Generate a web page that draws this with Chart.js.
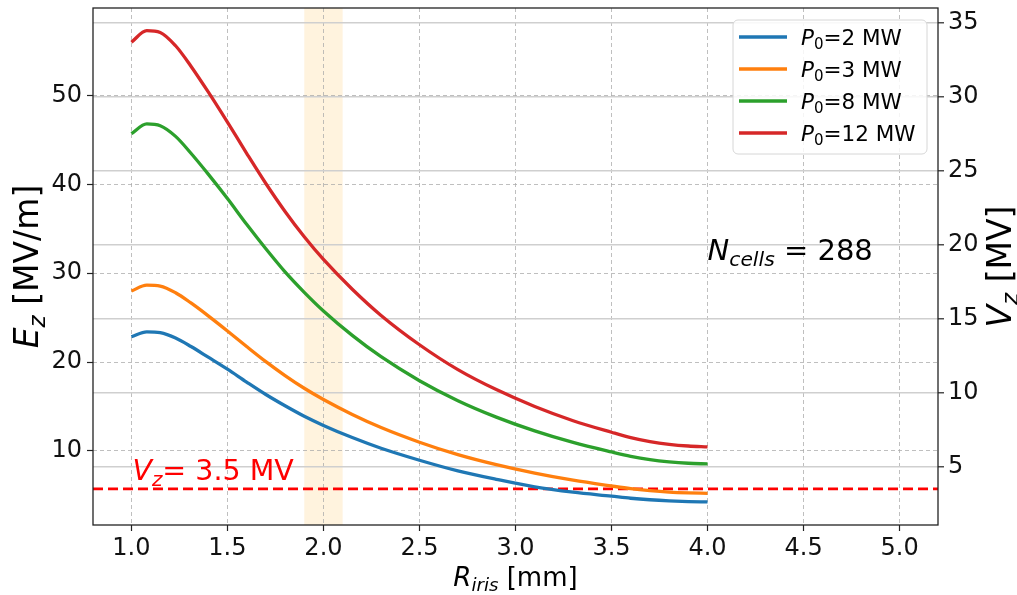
<!DOCTYPE html>
<html>
<head>
<meta charset="utf-8">
<script src="https://cdn.jsdelivr.net/npm/chart.js@4/dist/chart.umd.min.js"></script>
<style>
html,body{margin:0;padding:0;background:#fff;}
#wrap{width:1017px;height:595px;}
</style>
</head>
<body>
<div id="wrap"><canvas id="c" width="1017" height="595"></canvas></div>
<script>
// ===== DATA =====
const rIris = [1.0, 1.08, 1.15, 1.23, 1.31, 1.4, 1.5, 1.6, 1.7, 1.8, 1.9, 2.0, 2.15, 2.3, 2.5, 2.7, 2.9, 3.1, 3.3, 3.5, 3.6, 3.7, 3.8, 3.9, 4.0];
const ezP2  = [22.85, 23.4, 23.3, 22.7, 21.75, 20.55, 19.2, 17.75, 16.35, 15.08, 13.9, 12.87, 11.5, 10.3, 8.95, 7.75, 6.8, 5.95, 5.35, 4.9, 4.67, 4.5, 4.38, 4.3, 4.26];
const ezP3  = [28.0, 28.65, 28.55, 27.8, 26.65, 25.2, 23.5, 21.75, 20.05, 18.48, 17.05, 15.78, 14.1, 12.63, 10.98, 9.58, 8.45, 7.5, 6.7, 6.05, 5.75, 5.53, 5.37, 5.28, 5.23];
const ezP8  = [45.7, 46.8, 46.6, 45.4, 43.5, 41.15, 38.4, 35.5, 32.75, 30.15, 27.85, 25.75, 23.0, 20.6, 17.9, 15.65, 13.8, 12.25, 10.95, 9.88, 9.39, 9.02, 8.77, 8.61, 8.53];
const ezP12 = [56.0, 57.3, 57.1, 55.6, 53.3, 50.4, 47.0, 43.5, 40.1, 36.95, 34.1, 31.55, 28.2, 25.25, 21.95, 19.15, 16.9, 15.0, 13.4, 12.1, 11.5, 11.05, 10.74, 10.55, 10.45];
const powers = ["2", "3", "8", "12"];
const colors = ["#1f77b4", "#ff7f0e", "#2ca02c", "#d62728"];

const xTicks = [1.0, 1.5, 2.0, 2.5, 3.0, 3.5, 4.0, 4.5, 5.0];
const ezTicks = [10, 20, 30, 40, 50];
const vzTicks = [5, 10, 15, 20, 25, 30, 35];
const xRange = [0.8, 5.2];
const ezRange = [1.66, 59.85];
const vzRange = [1.06, 35.97];

const vzLimit = 3.5;          // MV, on right axis
const band = [1.9, 2.1];      // highlighted R_iris window
const nCells = 288;

const FONT = '"DejaVu Sans", sans-serif';

// ===== rich text helpers (italic + subscripts) =====
function richWidth(ctx, parts, size){
    let w = 0;
    parts.forEach(p => {
        const s = p.sub ? size*0.7 : size;
        ctx.font = (p.it ? 'italic ' : '') + s + 'px ' + FONT;
        w += ctx.measureText(p.t).width;
    });
    return w;
}
function drawRich(ctx, parts, x, y, size, color){
    let cx = x;
    ctx.fillStyle = color;
    ctx.textAlign = 'left';
    ctx.textBaseline = 'alphabetic';
    parts.forEach(p => {
        const s = p.sub ? size*0.7 : size;
        ctx.font = (p.it ? 'italic ' : '') + s + 'px ' + FONT;
        ctx.fillText(p.t, cx, y + (p.sub ? size*0.2 : 0));
        cx += ctx.measureText(p.t).width;
    });
}

const decor = {
    id: 'decor',
    beforeDraw(chart){
        const {ctx, chartArea:a, scales} = chart;
        const x0 = scales.x.getPixelForValue(band[0]), x1 = scales.x.getPixelForValue(band[1]);
        ctx.save();
        ctx.fillStyle = 'rgba(255,165,0,0.13)';
        ctx.fillRect(x0, a.top, x1-x0, a.bottom-a.top);
        ctx.restore();
    },
    afterDraw(chart){
        const {ctx, chartArea:a, scales} = chart;
        ctx.save();
        // spines
        ctx.strokeStyle = '#222'; ctx.lineWidth = 1.3;
        ctx.strokeRect(a.left, a.top, a.right-a.left, a.bottom-a.top);

        // V_z limit label
        drawRich(ctx, [{t:'V',it:1},{t:'z',it:1,sub:1},{t:'= 3.5 MV'}],
            scales.x.getPixelForValue(1.0)+1, scales.y2.getPixelForValue(4.1), 28.5, '#ff0000');
        // N_cells label
        drawRich(ctx, [{t:'N',it:1},{t:'cells',it:1,sub:1},{t:' = ' + nCells}],
            scales.x.getPixelForValue(4.0), scales.y.getPixelForValue(31.5), 29, '#000');

        // legend
        const lx = a.right - 205, ly = a.top + 12, lw = 194, lh = 134;
        ctx.beginPath();
        ctx.roundRect(lx, ly, lw, lh, 5);
        ctx.fillStyle = 'rgba(255,255,255,0.85)'; ctx.fill();
        ctx.strokeStyle = '#d6d6d6'; ctx.lineWidth = 1; ctx.stroke();
        powers.forEach((p, i) => {
            const ry = ly + 17 + i*32;
            ctx.strokeStyle = colors[i]; ctx.lineWidth = 3.3;
            ctx.beginPath(); ctx.moveTo(lx+6, ry); ctx.lineTo(lx+54, ry); ctx.stroke();
            drawRich(ctx, [{t:'P',it:1},{t:'0',sub:1},{t:'=' + p + ' MW'}], lx+68, ry+7.5, 21.5, '#000');
        });

        // axis titles
        const cy = (a.top + a.bottom)/2;
        const ezParts = [{t:'E',it:1},{t:'z',it:1,sub:1},{t:' [MV/m]'}];
        ctx.save();
        ctx.translate(38, cy); ctx.rotate(-Math.PI/2);
        drawRich(ctx, ezParts, -richWidth(ctx, ezParts, 33)/2, 0, 33, '#000');
        ctx.restore();
        const vzParts = [{t:'V',it:1},{t:'z',it:1,sub:1},{t:' [MV]'}];
        ctx.save();
        ctx.translate(1011, cy); ctx.rotate(-Math.PI/2);
        drawRich(ctx, vzParts, -richWidth(ctx, vzParts, 33)/2, 0, 33, '#000');
        ctx.restore();
        const rParts = [{t:'R',it:1},{t:'iris',it:1,sub:1},{t:' [mm]'}];
        const cx = (a.left + a.right)/2;
        drawRich(ctx, rParts, cx - richWidth(ctx, rParts, 26)/2, 586, 26, '#000');
        ctx.restore();
    }
};

const pts = ys => ys.map((v, i) => ({x: rIris[i], y: v}));
const series = [ezP2, ezP3, ezP8, ezP12];

const datasets = series.map((ys, i) => ({
    label: 'P0=' + powers[i] + ' MW',
    data: pts(ys),
    borderColor: colors[i],
    borderWidth: 3.3,
    pointRadius: 0,
    fill: false,
    cubicInterpolationMode: 'monotone',
    yAxisID: 'y'
}));
datasets.push({
    label: 'Vz limit',
    data: [{x: xRange[0], y: vzLimit}, {x: xRange[1], y: vzLimit}],
    borderColor: '#ff0000',
    borderWidth: 2.8,
    borderDash: [10, 5],
    pointRadius: 0,
    fill: false,
    yAxisID: 'y2'
});

const setTicks = vals => s => { s.ticks = vals.map(v => ({value: v})); };
const tickFont = {family: FONT, size: 24};

new Chart(document.getElementById('c').getContext('2d'), {
    type: 'line',
    data: {datasets},
    options: {
        responsive: false,
        animation: false,
        devicePixelRatio: 1,
        layout: {padding: {top: 8, left: 0, right: 0, bottom: 0}},
        plugins: {legend: {display: false}, tooltip: {enabled: false}},
        scales: {
            x: {
                type: 'linear', position: 'bottom', min: xRange[0], max: xRange[1],
                afterBuildTicks: setTicks(xTicks),
                afterFit: s => { s.height = 70; s.paddingLeft = 0; s.paddingRight = 0; },
                ticks: {font: tickFont, color: '#111', padding: 3, maxRotation: 0, autoSkip: false,
                        callback: v => v.toFixed(1)},
                grid: {color: 'rgba(170,170,170,0.75)', lineWidth: 1, tickLength: 6, tickColor: '#222', tickWidth: 1.2, tickBorderDash: []},
                border: {display: false, dash: [4, 3]}
            },
            y: {
                type: 'linear', position: 'left', min: ezRange[0], max: ezRange[1],
                afterBuildTicks: setTicks(ezTicks),
                afterFit: s => { s.width = 93; s.paddingTop = 0; s.paddingBottom = 0; },
                ticks: {font: tickFont, color: '#111', padding: 5, autoSkip: false},
                grid: {color: 'rgba(170,170,170,0.75)', lineWidth: 1, tickLength: 6, tickColor: '#222', tickWidth: 1.2, tickBorderDash: []},
                border: {display: false, dash: [4, 3]}
            },
            y2: {
                type: 'linear', position: 'right', min: vzRange[0], max: vzRange[1],
                afterBuildTicks: setTicks(vzTicks),
                afterFit: s => { s.width = 79; s.paddingTop = 0; s.paddingBottom = 0; },
                ticks: {font: tickFont, color: '#111', padding: 4, autoSkip: false},
                grid: {color: '#cfcfcf', lineWidth: 1.6, tickLength: 6, tickColor: '#222', tickWidth: 1.2},
                border: {display: false}
            }
        }
    },
    plugins: [decor]
});
</script>
</body>
</html>
